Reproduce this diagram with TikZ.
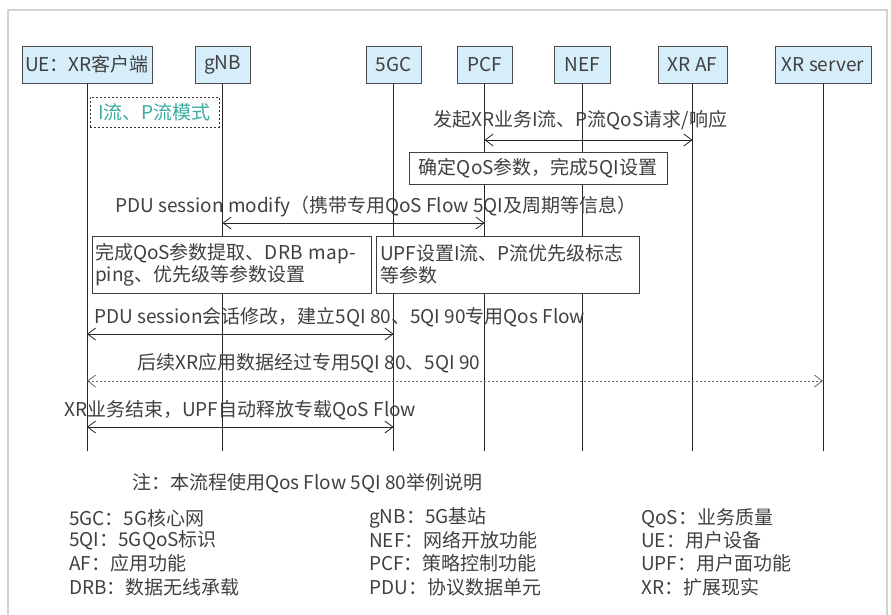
\documentclass[tikz,border=0pt]{standalone}
\usepackage{fontspec}
\setmainfont{Noto Sans CJK SC}
\usetikzlibrary{arrows.meta}
\definecolor{boxblue}{HTML}{D6EEFA}
\definecolor{txtgray}{HTML}{404040}
\definecolor{flowteal}{HTML}{3AADA0}
\definecolor{framegray}{HTML}{D2D2D2}
\begin{document}
\begin{tikzpicture}[x=1pt,y=-1pt,
  font=\fontsize{19}{22}\selectfont, text=txtgray,
  actor/.style={draw=black!70, fill=boxblue, line width=0.8pt, minimum height=37pt, inner sep=0pt},
  life/.style={draw=black!85, line width=0.8pt},
  stepbox/.style={draw=black!75, fill=white, line width=0.8pt, inner sep=0pt},
  msg/.style={anchor=west, inner sep=0pt},
  dbl/.style={draw=black!85, line width=0.8pt, {Straight Barb[length=8pt,width=12pt]}-{Straight Barb[length=8pt,width=12pt]}},
  legend/.style={anchor=west, inner sep=0pt}]
\useasboundingbox (0,0) rectangle (891,615);
% frame (open at bottom)
\draw[framegray, line width=1.5pt] (8,615) -- (8,10) -- (887,10) -- (887,615);

% actors
\node[actor, minimum width=130pt] (ue)  at (87,64.5)   {UE：XR客户端};
\node[actor, minimum width=55pt]  (gnb) at (222.5,64.5) {gNB};
\node[actor, minimum width=55pt]  (cgc) at (393.5,64.5) {5GC};
\node[actor, minimum width=55pt]  (pcf) at (484.5,64.5) {PCF};
\node[actor, minimum width=56pt]  (nef) at (582,64.5)   {NEF};
\node[actor, minimum width=69pt]  (af)  at (692.5,64.5) {XR AF};
\node[actor, minimum width=96pt]  (srv) at (823,64.5)   {XR server};

% lifelines
\coordinate (bottom) at (0,451);
\foreach \a in {ue,gnb,cgc,pcf,nef,af,srv}{
  \draw[life] (\a.south) -- (\a.south |- bottom);
}

% message levels
\coordinate (y1) at (0,140);
\coordinate (y2) at (0,223);
\coordinate (y3) at (0,334);
\coordinate (y4) at (0,381);
\coordinate (y5) at (0,427);

% dashed mode box
\node[draw=black!80, dashed, dash pattern=on 2pt off 2pt, line width=0.8pt, fill=white,
      minimum width=129pt, minimum height=30pt, inner sep=0pt, text=flowteal] (mode) at (154.5,112) {I流、P流模式};

% message 1
\node[msg] (t1) at (433,120) {发起XR业务I流、P流QoS请求/响应};
\draw[dbl] (pcf.south |- y1) -- (af.south |- y1);

% box: QoS parameters
\node[stepbox, minimum width=258pt, minimum height=32pt] (b1) at (538,168) {确定QoS参数，完成5QI设置};

% message 2
\node[msg] (t2) at (115,207) {PDU session modify（携带专用QoS Flow 5QI及周期等信息）};
\draw[dbl] (gnb.south |- y2) -- (pcf.south |- y2);

% boxes A and B
\node[stepbox, minimum width=279pt, minimum height=57pt, text width=273pt, align=left] (ba) at (231.5,264.5)
  {完成QoS参数提取、DRB map-\\ping、优先级等参数设置};
\node[stepbox, minimum width=263pt, minimum height=57pt, text width=255pt, align=left] (bb) at (507.5,264.5)
  {UPF设置I流、P流优先级标志\\等参数};

% message 3
\node[msg] (t3) at (94,317) {PDU session会话修改，建立5QI 80、5QI 90专用Qos Flow};
\draw[dbl] (ue.south |- y3) -- (cgc.south |- y3);

% message 4
\node[msg] (t4) at (137,363) {后续XR应用数据经过专用5QI 80、5QI 90};
\draw[dbl, draw=black!60, dash pattern=on 2pt off 2pt] (ue.south |- y4) -- (srv.south |- y4);

% message 5
\node[msg] (t5) at (64,410) {XR业务结束，UPF自动释放专载QoS Flow};
\draw[dbl] (ue.south |- y5) -- (cgc.south |- y5);

% note
\node[legend] (note) at (132,483) {注：本流程使用Qos Flow 5QI 80举例说明};

% legend
\node[legend] (l11) at (69,518) {5GC：5G核心网};
\node[legend] (l12) at (69,540) {5QI：5GQoS标识};
\node[legend] (l13) at (69,563) {AF：应用功能};
\node[legend] (l14) at (69,587) {DRB：数据无线承载};
\node[legend] (l21) at (369,518) {gNB：5G基站};
\node[legend] (l22) at (369,540) {NEF：网络开放功能};
\node[legend] (l23) at (369,563) {PCF：策略控制功能};
\node[legend] (l24) at (369,587) {PDU：协议数据单元};
\node[legend] (l31) at (641,518) {QoS：业务质量};
\node[legend] (l32) at (641,540) {UE：用户设备};
\node[legend] (l33) at (641,563) {UPF：用户面功能};
\node[legend] (l34) at (641,587) {XR：扩展现实};
\end{tikzpicture}
\end{document}
